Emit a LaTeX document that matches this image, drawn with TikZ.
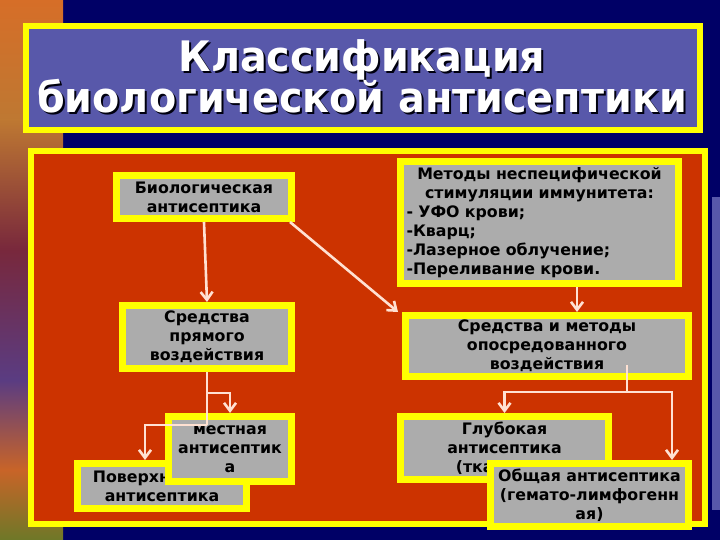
\documentclass[tikz,border=0pt]{standalone}
\usepackage{fontspec}
\setmainfont{DejaVu Sans}
\usetikzlibrary{arrows.meta}
\definecolor{navy}{RGB}{0,0,102}
\definecolor{slate}{RGB}{88,88,170}
\definecolor{panelred}{RGB}{204,51,0}
\definecolor{boxgray}{RGB}{172,172,172}
\definecolor{yel}{RGB}{255,255,0}
\definecolor{connc}{RGB}{255,225,210}
\definecolor{fireA}{RGB}{214,110,40}
\definecolor{fireB}{RGB}{190,120,50}
\definecolor{fireC}{RGB}{120,40,60}
\definecolor{fireD}{RGB}{90,60,130}
\definecolor{fireE}{RGB}{200,100,40}
\definecolor{fireF}{RGB}{110,120,40}
\tikzset{
  box/.style={draw=yel, line width=7pt, fill=boxgray, inner sep=0pt, outer sep=3.5pt,
    font=\bfseries\fontsize{15.8}{19}\selectfont, align=center, text=black},
  conn/.style={draw=connc, line width=2.6pt},
  arr/.style={conn, -{Straight Barb[length=8pt,width=12pt]}},
  ttl/.style={font=\bfseries\fontsize{42}{41}\selectfont, anchor=base, inner sep=0pt},
}
\begin{document}
\begin{tikzpicture}[x=1pt,y=-1pt]
\useasboundingbox (0,0) rectangle (720,540);
% background
\fill[navy] (0,0) rectangle (720,540);
\fill[slate] (712,197) rectangle (720,510);
% left decorative strip
\shade[top color=fireA, bottom color=fireB] (0,0) rectangle (63,120);
\shade[top color=fireB, bottom color=fireC] (0,120) rectangle (63,250);
\shade[top color=fireC, bottom color=fireD] (0,250) rectangle (63,380);
\shade[top color=fireD, bottom color=fireE] (0,380) rectangle (63,470);
\shade[top color=fireE, bottom color=fireF] (0,470) rectangle (63,540);
% title
\draw[draw=yel, line width=6pt, fill=slate] (26,26) rectangle (700,130);
\node[ttl, text=black!85!navy] (t1s) at (364,74) {\scalebox{0.945}[1]{Классификация}};
\node[ttl, text=white] (t1) at (362,72) {\scalebox{0.945}[1]{Классификация}};
\node[ttl, text=black!85!navy] (t2s) at (364,115) {\scalebox{0.945}[1]{биологической антисептики}};
\node[ttl, text=white] (t2) at (362,113) {\scalebox{0.945}[1]{биологической антисептики}};
% panel
\draw[draw=yel, line width=6pt, fill=panelred] (31,151) rectangle (705,524);
% boxes
\node[box, minimum width=175pt, minimum height=43pt] (bio) at (204,197) {Биологическая\\антисептика};
\node[box, minimum width=169pt, minimum height=63pt] (pryam) at (207,337) {Средства\\прямого\\воздействия};
\node[box, minimum width=278pt, minimum height=122pt, text width=266pt, align=left] (methods) at (539.5,222.5)
  {\makebox[\linewidth][c]{Методы неспецифической}\\
   \makebox[\linewidth][c]{стимуляции иммунитета:}\\
   - УФО крови;\\
   -Кварц;\\
   -Лазерное облучение;\\
   -Переливание крови.};
\node[box, minimum width=283pt, minimum height=61pt] (oposr) at (547,346) {Средства и методы\\опосредованного\\воздействия};
\node[box, minimum width=169pt, minimum height=45pt] (poverh) at (162,486) {Поверхностная\\антисептика};
\node[box, minimum width=123pt, minimum height=65pt] (mestn) at (230,449) {местная\\антисептик\\а};
\node[box, minimum width=208pt, minimum height=63pt] (glub) at (504.5,448) {Глубокая\\антисептика\\(тканевая)};
\node[box, minimum width=198pt, minimum height=63pt] (obsh) at (589.5,495) {Общая антисептика\\(гемато-лимфогенн\\ая)};
% connectors
\draw[arr] (bio.south) -- (pryam.north);
\draw[arr] ([xshift=-5pt]bio.south east) -- ([xshift=-4pt]oposr.north west);
\draw[arr] (methods.south -| 577,0) -- (oposr.north -| 577,0);
\coordinate (oposrOut) at (627,365);
\coordinate (splitR) at (627,392);
\draw[conn] (oposrOut) -- (splitR);
\draw[arr] (splitR) -| (glub.north);
\draw[arr] (splitR) -| ([xshift=-20pt]obsh.north east);
\coordinate (splitL) at (207,425);
\coordinate (branchL) at (207,393);
\draw[conn] (pryam.south) -- (splitL);
\draw[arr] (splitL) -| ([xshift=-17pt]poverh.north);
\draw[arr] (branchL) -| (mestn.north);
\end{tikzpicture}
\end{document}
